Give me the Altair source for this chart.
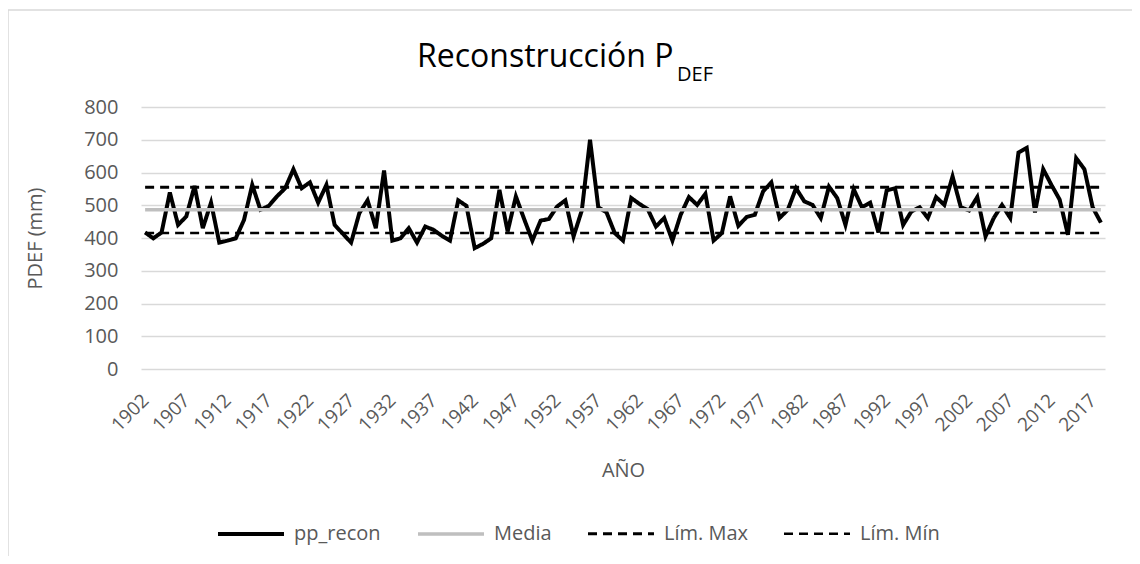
import altair as alt
import pandas as pd

years = list(range(1902, 2019))
pp_recon = [417, 399, 417, 539, 440, 466, 559, 430, 508, 386,
            392, 399, 455, 562, 486, 498, 527, 552, 610, 552,
            570, 508, 562, 440, 413, 386, 476, 515, 430, 606,
            392, 399, 430, 386, 435, 425, 407, 392, 515, 498,
            369, 382, 399, 547, 420, 527, 458, 392, 453, 458,
            496, 515, 405, 484, 700, 494, 478, 415, 392, 522,
            504, 488, 435, 461, 392, 471, 525, 501, 535, 392,
            415, 527, 437, 464, 471, 542, 570, 461, 486, 552,
            512, 501, 461, 557, 522, 440, 549, 494, 508, 417,
            545, 552, 440, 481, 494, 461, 525, 501, 588, 494,
            484, 525, 405, 461, 501, 461, 661, 675, 478, 610,
            562, 517, 410, 644, 610, 494, 447]
media = 486
lim_max = 555
lim_min = 415

series_names = ["pp_recon", "Media", "Lím. Max", "Lím. Mín"]
tick_years = list(range(1902, 2018, 5))
y_ticks = list(range(0, 801, 100))

rows = []
for yr, v in zip(years, pp_recon):
    rows.append({"year": yr, "value": v, "series": "pp_recon"})
for yr in years:
    rows.append({"year": yr, "value": media, "series": "Media"})
for yr in years:
    rows.append({"year": yr, "value": lim_max, "series": "Lím. Max"})
for yr in years:
    rows.append({"year": yr, "value": lim_min, "series": "Lím. Mín"})
df = pd.DataFrame(rows)

FONT = "Open Sans"
GREY_TXT = "#595959"
W, H = 964, 262

legend = alt.Legend(
    title=None, orient="none", legendX=75, legendY=392, direction="horizontal",
    columns=4, symbolType="stroke", symbolSize=4356, labelFontSize=20,
    labelFont=FONT, labelColor=GREY_TXT, labelOffset=8, columnPadding=30,
    padding=0, symbolOffset=0,
)

lines = alt.Chart(df).mark_line().encode(
    x=alt.X("year:Q",
            scale=alt.Scale(domain=[1901.5, 2018.5], nice=False, zero=False),
            axis=alt.Axis(values=tick_years, format="d", labelAngle=-45,
                          labelAlign="right", labelBaseline="middle",
                          labelPadding=28, grid=False, domain=False, ticks=False,
                          labelFontSize=19, labelFont=FONT, labelColor=GREY_TXT,
                          title="AÑO", titleFont=FONT, titleFontSize=20,
                          titleFontWeight="normal", titleColor=GREY_TXT,
                          titleY=101, titleBaseline="middle", labelOverlap=False)),
    y=alt.Y("value:Q",
            scale=alt.Scale(domain=[0, 800], nice=False),
            axis=alt.Axis(values=y_ticks, grid=True, gridColor="#D9D9D9",
                          gridWidth=1.3, domain=False, ticks=False,
                          labelFontSize=20, labelFont=FONT, labelColor=GREY_TXT,
                          labelPadding=23,
                          title="PDEF (mm)", titleFont=FONT, titleFontSize=20,
                          titleFontWeight="normal", titleColor=GREY_TXT,
                          titleX=-106, titleBaseline="middle")),
    color=alt.Color("series:N",
                    scale=alt.Scale(domain=series_names,
                                    range=["#000000", "#BFBFBF", "#000000", "#000000"]),
                    legend=legend),
    strokeDash=alt.StrokeDash("series:N",
                              scale=alt.Scale(domain=series_names,
                                              range=[[1, 0], [1, 0], [9, 6], [9, 6]]),
                              legend=legend),
    strokeWidth=alt.StrokeWidth("series:N",
                                scale=alt.Scale(domain=series_names,
                                                range=[4, 2.5, 2.5, 2.5]),
                                legend=legend),
)

one = pd.DataFrame({"a": [0]})
title_main = alt.Chart(one).mark_text(
    text="Reconstrucción P", font=FONT, fontSize=32, align="left",
    baseline="alphabetic", color="#000000"
).encode(x=alt.value(276), y=alt.value(-40))
title_sub = alt.Chart(one).mark_text(
    text="DEF", font=FONT, fontSize=20, align="left",
    baseline="alphabetic", color="#000000"
).encode(x=alt.value(536), y=alt.value(-26))

border_left = alt.Chart(one).mark_rule(color="#D9D9D9", strokeWidth=1.5).encode(
    x=alt.value(-133), y=alt.value(-97), y2=alt.value(H + 200))
border_top = alt.Chart(one).mark_rule(color="#D9D9D9", strokeWidth=1.5).encode(
    x=alt.value(-133), x2=alt.value(W + 40), y=alt.value(-97))

chart = alt.layer(border_left, border_top, lines, title_main, title_sub).properties(
    width=W, height=H,
    padding={"left": 133, "top": 99, "right": 27, "bottom": 187},
    autosize="none",
).configure_view(stroke=None)

chart.save("out.html", embed_options={"renderer": "svg", "actions": False})
